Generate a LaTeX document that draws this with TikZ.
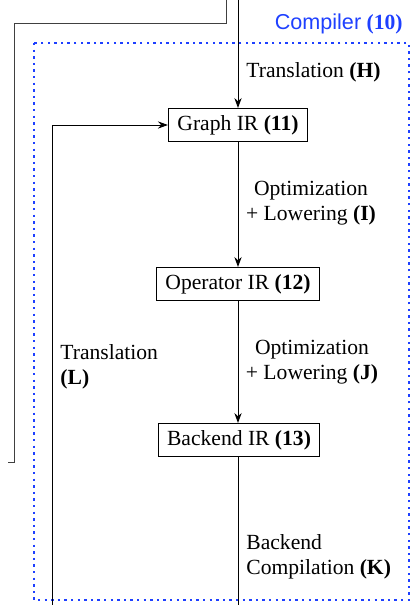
\documentclass[tikz,border=0pt]{standalone}
\usepackage{fontspec}
\setmainfont{Liberation Serif}
\setsansfont{Liberation Sans}
\definecolor{compblue}{RGB}{30, 64, 255}
\usepackage{tikz}
\usetikzlibrary{
  arrows.meta,
  positioning,
  calc
}

\tikzset{
  irbox/.style={draw, line width=0.5pt, inner xsep=4.5pt, minimum height=15.5pt},
  flow/.style={line width=0.5pt, -{Stealth[length=5pt, width=3.6pt]}},
  plainline/.style={line width=0.5pt},
  passlabel/.style={inner sep=0pt, font=\fontsize{10.8}{12.6}\selectfont}
}

\begin{document}
\begin{tikzpicture}[x=0.5pt, y=-0.5pt, every node/.append style={font=\fontsize{10.8}{12.6}\selectfont}]
\useasboundingbox (0,0) rectangle (410,605);

% compiler frame
\draw[compblue, line width=1.2pt, dash pattern=on 1.2pt off 2.1pt]
  (34,43) rectangle (409,600);
\node[passlabel, anchor=east, text=compblue] (complabel) at (403,24)
  {{\sffamily Compiler} \textbf{(10)}};

% IR levels
\node[irbox] (graphir) at (238,125) {Graph IR \textbf{(11)}};
\node[irbox] (opir) at (238,284) {Operator IR \textbf{(12)}};
\node[irbox] (backendir) at (239,440) {Backend IR \textbf{(13)}};

% free ends
\coordinate (topin) at (238,0);
\coordinate (bottomout) at (238,605);
\coordinate (loopin) at (52,605);
\coordinate (outa) at (226,0);
\coordinate (outb) at (226,23);
\coordinate (outc) at (14,23);
\coordinate (outd) at (14,462);
\coordinate (oute) at (8,462);

\draw[flow] (topin) -- (graphir.north);
\draw[flow] (graphir.south) -- (opir.north);
\draw[flow] (opir.south) -- (opir.south |- backendir.north);
\draw[plainline] (opir.south |- backendir.south) -- (bottomout);
\draw[flow] (loopin) |- (graphir.west);
\draw[plainline, black!75] (outa) -- (outb) -- (outc) -- (outd) -- (oute);

% pass labels
\node[passlabel, anchor=west] (transh) at (246,72) {Translation \textbf{(H)}};
\node[passlabel, align=center] (optI) at (311,203)
  {Optimization\\+ Lowering \textbf{(I)}};
\node[passlabel, align=center] (optJ) at (312,362)
  {Optimization\\+ Lowering \textbf{(J)}};
\node[passlabel, anchor=west, align=left] (transl) at (60,367)
  {Translation\\\textbf{(L)}};
\node[passlabel, anchor=west, align=left] (backk) at (246,557)
  {Backend\\Compilation \textbf{(K)}};
\end{tikzpicture}
\end{document}
